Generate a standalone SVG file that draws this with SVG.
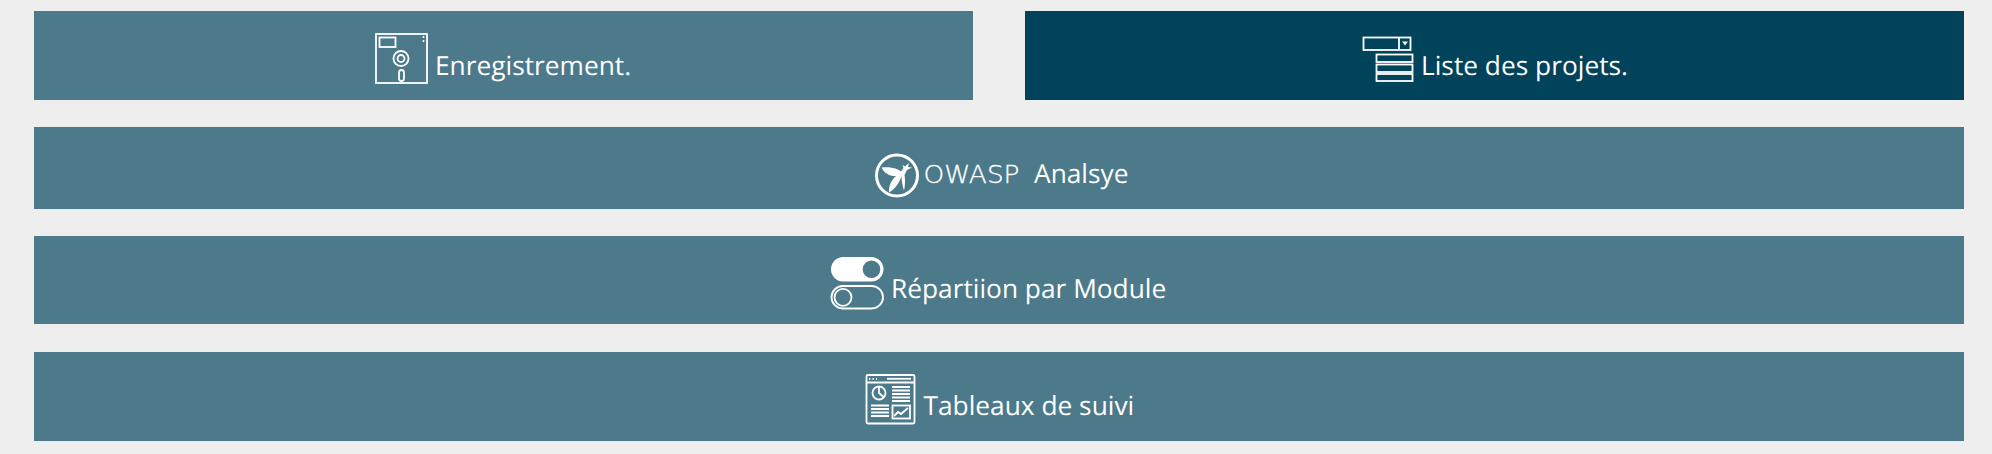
<svg xmlns="http://www.w3.org/2000/svg" width="1992" height="454" viewBox="0 0 1992 454">
<style>
.box{fill:#4c7a8b}
.dark{fill:#01435a}
.lbl{font-family:"Open Sans","Noto Sans",sans-serif;font-size:26.3px;fill:#fff;text-rendering:geometricPrecision}
.logo{font-family:"DejaVu Sans",sans-serif;font-weight:200;font-size:24px;fill:#fff;stroke:#fff;stroke-width:.3}
.ic{fill:none;stroke:#fff;stroke-width:1.8}
.fl{fill:#fff}
</style>
<rect width="1992" height="454" fill="#eeeeee"/>
<g id="enregistrement">
<rect class="box" x="34" y="11" width="939" height="89"/>
<rect class="ic" x="376" y="34" width="51" height="49"/>
<rect class="ic" x="379.500" y="37.500" width="16" height="9.500"/>
<circle class="fl" cx="423.500" cy="37" r="1"/><circle class="fl" cx="423.500" cy="41" r="1"/>
<circle class="ic" cx="401" cy="58.500" r="7.500"/><circle class="ic" cx="401" cy="58.500" r="3.500"/>
<rect class="ic" x="399" y="70" width="5" height="11" rx="2.500"/>
<text class="lbl" x="435" y="75">Enregistrement.</text>
</g>
<g id="liste-projets">
<rect class="dark" x="1025" y="11" width="939" height="89"/>
<rect class="ic" x="1363.500" y="37.500" width="47" height="12.500"/>
<line class="ic" x1="1399" y1="37.500" x2="1399" y2="50"/>
<path class="fl" d="M1402 41.500h6l-3 4z"/>
<rect class="ic" x="1376.500" y="54.500" width="36" height="7.500"/>
<rect class="ic" x="1376.500" y="64.500" width="36" height="7.500"/>
<rect class="ic" x="1376.500" y="74" width="36" height="7"/>
<text class="lbl" x="1421" y="74.500">Liste des projets.</text>
</g>
<g id="owasp-analyse">
<rect class="box" x="34" y="127" width="1930" height="82"/>
<circle fill="none" stroke="#fff" stroke-width="3" cx="897" cy="175.500" r="20.500"/>
<path class="fl" d="M881.500 167.500C889 166.500 897 168 901 171.500L903.500 168L902.500 165L905 166.500L909 163L908 167L912 167.500L907 170L904.500 175C905.500 180 905 186 904 190.500C902.500 186 901.500 180 901.500 176C899.500 183 895 189 889 192.500C888.500 186 891.500 180 896 176C890 176.500 884.500 173.500 881.500 167.500Z"/>
<text class="logo" x="923.500" y="183" textLength="96" lengthAdjust="spacingAndGlyphs">OWASP</text>
<text class="lbl" x="1034" y="183">Analsye</text>
</g>
<g id="repartition-module">
<rect class="box" x="34" y="236" width="1930" height="88"/>
<rect class="fl" x="831" y="257" width="52.500" height="24.500" rx="12.250"/>
<circle class="box" cx="871.500" cy="269.300" r="8.800"/>
<rect class="ic" x="831.500" y="286" width="51.500" height="22.500" rx="11.250"/>
<circle class="ic" cx="843" cy="297.300" r="8.500"/>
<text class="lbl" x="891" y="298">Répartiion par Module</text>
</g>
<g id="tableaux-suivi">
<rect class="box" x="34" y="352" width="1930" height="89"/>
<rect class="ic" x="866.500" y="375" width="48" height="48.500" rx="1.500"/>
<line class="ic" x1="866.500" y1="382.500" x2="914.500" y2="382.500"/>
<path class="ic" stroke-dasharray="1.500 2" d="M869 378.800h8"/>
<path class="ic" d="M887 378.800h24"/>
<circle class="ic" cx="879" cy="393" r="6.500"/>
<path class="ic" d="M879 386.500v6.500l5 4.500"/>
<path class="ic" d="M892 387h18M892 390.500h18M892 394h18M892 397.500h18M892 401h18M871 405.500h18M871 409h18M871 412.500h18M871 416h18"/>
<rect class="ic" x="892.500" y="405.500" width="17.500" height="13"/>
<path class="ic" d="M894 416l4-4 3 2 7-6"/>
<text class="lbl" x="923.500" y="414.500">Tableaux de suivi</text>
</g>
</svg>
